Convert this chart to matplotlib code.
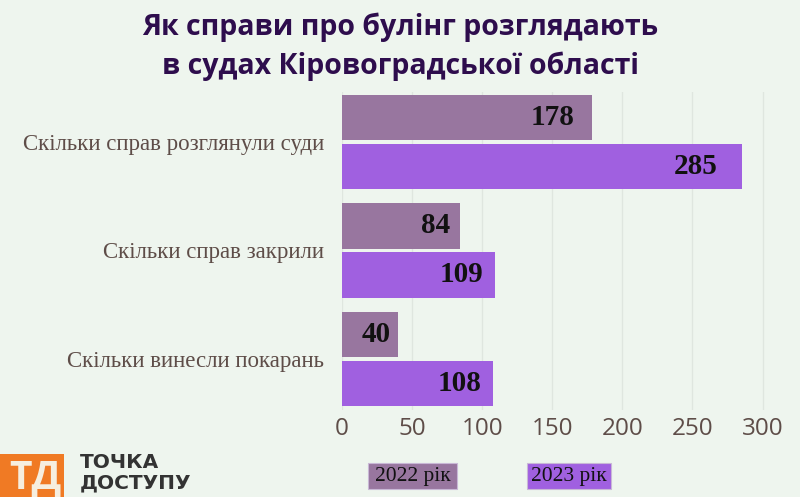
import matplotlib.pyplot as plt
import numpy as np
from matplotlib.patches import Rectangle

categories = ['Скільки справ розглянули суди', 'Скільки справ закрили', 'Скільки винесли покарань']
vals_2022 = [178, 84, 40]
vals_2023 = [285, 109, 108]
series_names = ['2022 рік', '2023 рік']
xticks = [0, 50, 100, 150, 200, 250, 300]

bg = '#eef5ee'
c2022 = '#98769f'
c2023 = '#a060e0'
txt = '#5e4d48'

fig = plt.figure(figsize=(8, 4.97), dpi=100, facecolor=bg)
ax = fig.add_axes([342/800, 1 - 410/497, 443/800, 318/497])
ax.set_facecolor(bg)

y = np.arange(len(categories))
off = 0.226
h = 0.42
b1 = ax.barh(y - off, vals_2022, height=h, color=c2022, zorder=2)
b2 = ax.barh(y + off, vals_2023, height=h, color=c2023, zorder=2)

for bars, vals in [(b1, vals_2022), (b2, vals_2023)]:
    for bar, v in zip(bars, vals):
        ax.annotate(str(v), (v * 0.95, bar.get_y() + bar.get_height() / 2),
                    xytext=(-3, 0), textcoords='offset points',
                    ha='right', va='center', fontsize=21, fontweight='bold',
                    family='Liberation Serif', color='#111111', zorder=3)

ax.set_xlim(0, 316)
ax.set_ylim(2.47, -0.46)
ax.set_xticks(xticks)
ax.set_xticklabels([str(t) for t in xticks], family='Open Sans', fontsize=17.5,
                   fontweight='medium', color=txt)
ax.set_yticks(y)
ax.set_yticklabels(categories, family='Liberation Serif', fontsize=16.5, color=txt)
ax.tick_params(axis='x', length=0, pad=5)
ax.tick_params(axis='y', length=0, pad=13)
ax.grid(axis='x', color='#dfe6df', linewidth=1, zorder=0)
for s in ax.spines.values():
    s.set_visible(False)

fig.text(0.5, 1 - 27/497, 'Як справи про булінг розглядають', ha='center', va='center',
         family='Open Sans', fontweight='bold', fontsize=20.5, color='#2e0d4d')
fig.text(0.5, 1 - 66/497, 'в судах Кіровоградської області', ha='center', va='center',
         family='Open Sans', fontweight='bold', fontsize=20.5, color='#2e0d4d')

# legend boxes
for name, col, x0, x1 in [(series_names[0], c2022, 368, 457), (series_names[1], c2023, 527, 611)]:
    fig.patches.append(Rectangle((x0/800, 1 - 489/497), (x1 - x0)/800, 26/497,
                                 transform=fig.transFigure, facecolor=col, edgecolor='#c9b8d6', lw=0.8))
    fig.text((x0 + x1)/2/800, 1 - 476/497, name, ha='center', va='center',
             family='Liberation Serif', fontsize=15.5, color='#111111')

# logo
fig.patches.append(Rectangle((0, 0), 64/800, 43/497, transform=fig.transFigure,
                             facecolor='#f07a24', edgecolor='none'))
fig.text(35/800, 1 - 478/497, 'ТД', ha='center', va='center', family='Open Sans',
         fontweight='bold', fontsize=28, color='#f6eedf')
fig.text(80/800, 1 - 468/497, 'ТОЧКА', ha='left', va='baseline', family='DejaVu Sans',
         fontweight='bold', fontsize=14.5, color='#333333')
fig.text(80/800, 1 - 488/497, 'ДОСТУПУ', ha='left', va='baseline', family='DejaVu Sans',
         fontweight='bold', fontsize=14.5, color='#333333')

fig.savefig('out.png', dpi=100, facecolor=bg)
